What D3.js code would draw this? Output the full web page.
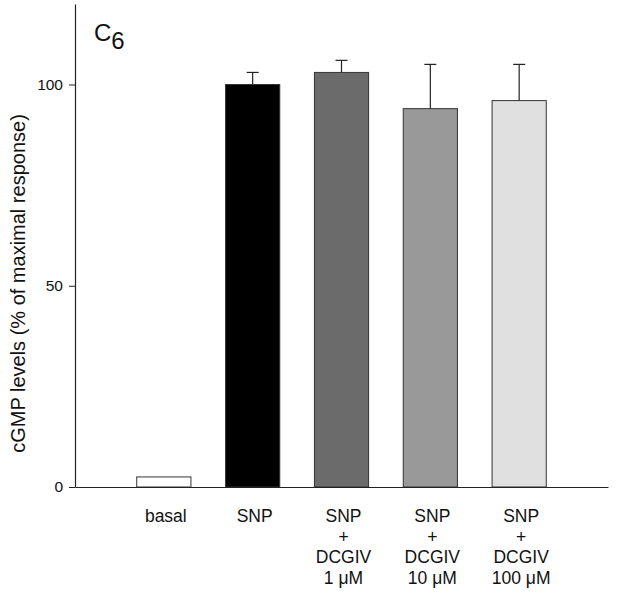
<!DOCTYPE html>
<html>
<head>
<meta charset="utf-8">
<script src="https://cdn.jsdelivr.net/npm/d3@7"></script>
<style>
  html, body { margin: 0; padding: 0; background: #fff; }
  svg { display: block; font-family: "Liberation Sans", Arial, sans-serif; }
</style>
</head>
<body>
<svg id="chart" width="619" height="594"></svg>
<script>
// ---- data ----
const categories = ["basal", "SNP", "SNP+1", "SNP+10", "SNP+100"];
const categoryLabels = [
  ["basal"],
  ["SNP"],
  ["SNP", "+", "DCGIV", "1 \u03bcM"],
  ["SNP", "+", "DCGIV", "10 \u03bcM"],
  ["SNP", "+", "DCGIV", "100 \u03bcM"]
];
const values = [2.5, 100, 103, 94, 96];
const errors = [0, 3, 3, 11, 9];
const fills = ["#ffffff", "#000000", "#6b6b6b", "#999999", "#e0e0e0"];
const yTicks = [0, 50, 100];
const yTitle = "cGMP levels (% of maximal response)";
const panelLabel = "C";
const panelSub = "6";

// ---- layout ----
const svg = d3.select("#chart");
const x0 = 75, x1 = 608, yTop = 4, yBottom = 487;

const x = d3.scalePoint().domain(categories).range([x0, x1]).padding(1);
const y = d3.scaleLinear().domain([0, 120]).range([yBottom, yTop]);
const barW = x.step() * 0.61;

// bars
svg.append("g").selectAll("rect").data(categories).join("rect")
  .attr("x", d => x(d) - barW / 2)
  .attr("y", (d, i) => y(values[i]))
  .attr("width", barW)
  .attr("height", (d, i) => y(0) - y(values[i]))
  .attr("fill", (d, i) => fills[i])
  .attr("stroke", "#333")
  .attr("stroke-width", 1);

// error bars
const eg = svg.append("g").attr("stroke", "#222").attr("stroke-width", 1.2);
categories.forEach((c, i) => {
  if (errors[i] <= 0) return;
  const cx = x(c);
  eg.append("line").attr("x1", cx).attr("x2", cx)
    .attr("y1", y(values[i])).attr("y2", y(values[i] + errors[i]));
  eg.append("line").attr("x1", cx - 6).attr("x2", cx + 6)
    .attr("y1", y(values[i] + errors[i])).attr("y2", y(values[i] + errors[i]));
});

// y axis
const yAxis = svg.append("g").attr("transform", `translate(${x0},0)`)
  .call(d3.axisLeft(y).tickValues(yTicks).tickSize(6).tickPadding(6).tickSizeOuter(0));
yAxis.select(".domain").attr("stroke", "#222").attr("stroke-width", 1.2);
yAxis.selectAll(".tick line").attr("stroke", "#222").attr("stroke-width", 1);
yAxis.selectAll(".tick text").attr("font-size", 15.5).attr("fill", "#111")
  .attr("font-family", "Liberation Sans, Arial, sans-serif");

// x axis line (no ticks)
const xAxis = svg.append("g").attr("transform", `translate(0,${yBottom})`)
  .call(d3.axisBottom(d3.scaleLinear().domain([x0, x1]).range([x0, x1])).tickValues([]).tickSizeOuter(0));
xAxis.select(".domain").attr("stroke", "#222").attr("stroke-width", 1.2);

// category labels
const lg = svg.append("g").attr("font-size", 17.5).attr("fill", "#111").attr("text-anchor", "middle");
categories.forEach((c, i) => {
  const t = lg.append("text").attr("x", x(c) + 2).attr("y", 522);
  categoryLabels[i].forEach((line, k) => {
    t.append("tspan").attr("x", x(c) + 2).attr("y", 522 + k * 20.7).text(line);
  });
});

// y title
svg.append("text")
  .attr("transform", `translate(25,${(yTop + yBottom) / 2 + 38}) rotate(-90)`)
  .attr("text-anchor", "middle")
  .attr("font-size", 20)
  .attr("fill", "#111")
  .text(yTitle);

// panel label
const pl = svg.append("text").attr("x", 94).attr("y", 41).attr("font-size", 24).attr("fill", "#111");
pl.append("tspan").text(panelLabel);
pl.append("tspan").attr("dy", 8).text(panelSub);
</script>
</body>
</html>
